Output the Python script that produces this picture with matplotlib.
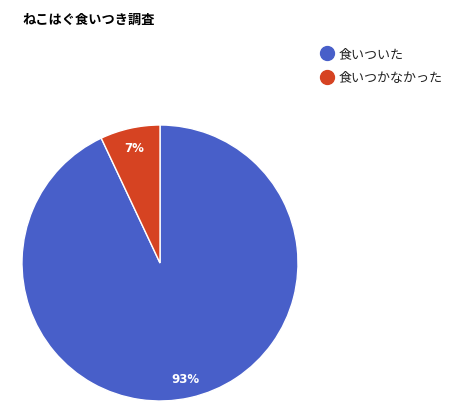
import matplotlib
matplotlib.use("Agg")
import matplotlib.pyplot as plt
from matplotlib.lines import Line2D

plt.rcParams['font.family'] = ['Noto Sans CJK JP', 'DejaVu Sans']

labels = ["食いついた", "食いつかなかった"]
values = [93, 7]
colors = ["#485fc9", "#d64322"]
title = "ねこはぐ食いつき調査"

W, H = 450, 414
fig = plt.figure(figsize=(W / 100, H / 100), dpi=100)

# pie placed in pixels: left 22, top 126, diameter 276
ax = fig.add_axes([22 / W, (H - 402) / H, 276 / W, 276 / H])
wedges, texts, autotexts = ax.pie(
    values, colors=colors, startangle=90, counterclock=False,
    autopct="%d%%", pctdistance=0.86, radius=1.0,
    wedgeprops=dict(edgecolor="white", linewidth=1.0),
    textprops=dict(color="white", fontsize=8.5, fontweight="bold",
                   family=["DejaVu Sans"]),
)
ax.set_xlim(-1, 1)
ax.set_ylim(-1, 1)
ax.set_aspect("equal")

fig.text(22 / W, 1 - 20 / H, title, fontsize=9.5, fontweight="bold",
         va="center", ha="left")

handles = [Line2D([0], [0], marker="o", linestyle="none", markersize=10,
                  markerfacecolor=c, markeredgecolor=c) for c in colors]
leg = fig.legend(handles, labels, loc="upper left",
                 bbox_to_anchor=(314 / W, 1 - 43 / H), frameon=False,
                 fontsize=9.4, handletextpad=0.3, labelspacing=0.85,
                 borderaxespad=0, handlelength=1.2)
for t in leg.get_texts():
    t.set_color("#222222")

fig.savefig("out.png", dpi=100)
